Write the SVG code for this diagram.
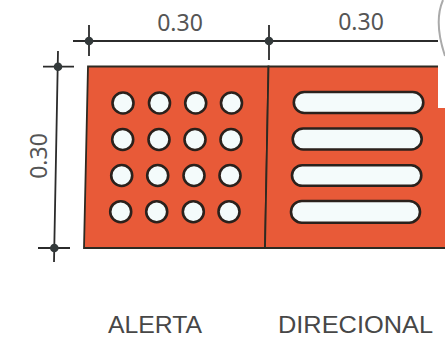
<svg xmlns="http://www.w3.org/2000/svg" width="445" height="338" viewBox="0 0 445 338">
<style>
.t{font-family:"Noto Sans","Liberation Sans",sans-serif;font-size:23px;fill:#555}
.l{font-family:"Liberation Sans",sans-serif;font-size:23px;fill:#474747}
.d{fill:none;stroke:#2b2b2b;stroke-width:1.8}
.tick{fill:#33393a}
.h{fill:#f4fbfb;stroke:#2a211c;stroke-width:2.6}
.panel{fill:#e85a38;stroke:#2e2a22;stroke-width:1.8}
</style>
<rect width="445" height="338" fill="#fff"/>
<g id="panels">
<g id="alerta">
<path class="panel" d="M88 66.500H268.500L265 248H84z"/>
<g id="alerta-holes">
<circle class="h" cx="123" cy="103" r="10.500"/><circle class="h" cx="159.500" cy="103" r="10.500"/><circle class="h" cx="195.700" cy="103" r="10.500"/><circle class="h" cx="231.500" cy="103" r="10.500"/>
<circle class="h" cx="122.700" cy="139.500" r="10.500"/><circle class="h" cx="159" cy="139.500" r="10.500"/><circle class="h" cx="195" cy="139.500" r="10.500"/><circle class="h" cx="231" cy="139.500" r="10.500"/>
<circle class="h" cx="121.700" cy="175.500" r="10.500"/><circle class="h" cx="157.700" cy="175.500" r="10.500"/><circle class="h" cx="194" cy="175.500" r="10.500"/><circle class="h" cx="230" cy="175.500" r="10.500"/>
<circle class="h" cx="120.700" cy="211.700" r="10.500"/><circle class="h" cx="156.700" cy="211.700" r="10.500"/><circle class="h" cx="193.300" cy="211.700" r="10.500"/><circle class="h" cx="229" cy="211.700" r="10.500"/>
</g>
</g>
<g id="direcional">
<path class="panel" d="M268.500 66.500H446V248H265z"/>
<rect class="h" x="293.800" y="92" width="129.500" height="21" rx="10.500"/>
<rect class="h" x="292.700" y="128.500" width="129" height="21" rx="10.500"/>
<rect class="h" x="292" y="165.300" width="129.300" height="20.500" rx="10.200"/>
<rect class="h" x="291" y="201" width="129" height="21.700" rx="10.800"/>
</g>
</g>
<g id="mask"><rect x="438" y="0" width="7" height="108" fill="#fff"/><path d="M443 0Q433.500 22 445 56" fill="none" stroke="#aaa" stroke-width="2"/></g>
<g id="connectors">
<path class="d" d="M73 41H438M89 25V56M269 25V60M43 66.700H74M58 51L54 262M38 248H70"/>
<circle class="tick" cx="89" cy="41" r="4.300"/><circle class="tick" cx="269" cy="41" r="4.300"/><circle class="tick" cx="58" cy="66.700" r="4.300"/><circle class="tick" cx="54.300" cy="248" r="4.300"/>
</g>
<g id="labels">
<text class="t" x="180" y="31" text-anchor="middle">0.30</text>
<text class="t" x="361" y="30" text-anchor="middle">0.30</text>
<text class="t" text-anchor="middle" transform="translate(47 156) rotate(-90)">0.30</text>
<text class="l" x="108" y="333" textLength="94" lengthAdjust="spacingAndGlyphs">ALERTA</text>
<text class="l" x="278" y="333" textLength="155" lengthAdjust="spacingAndGlyphs">DIRECIONAL</text>
</g>
</svg>
